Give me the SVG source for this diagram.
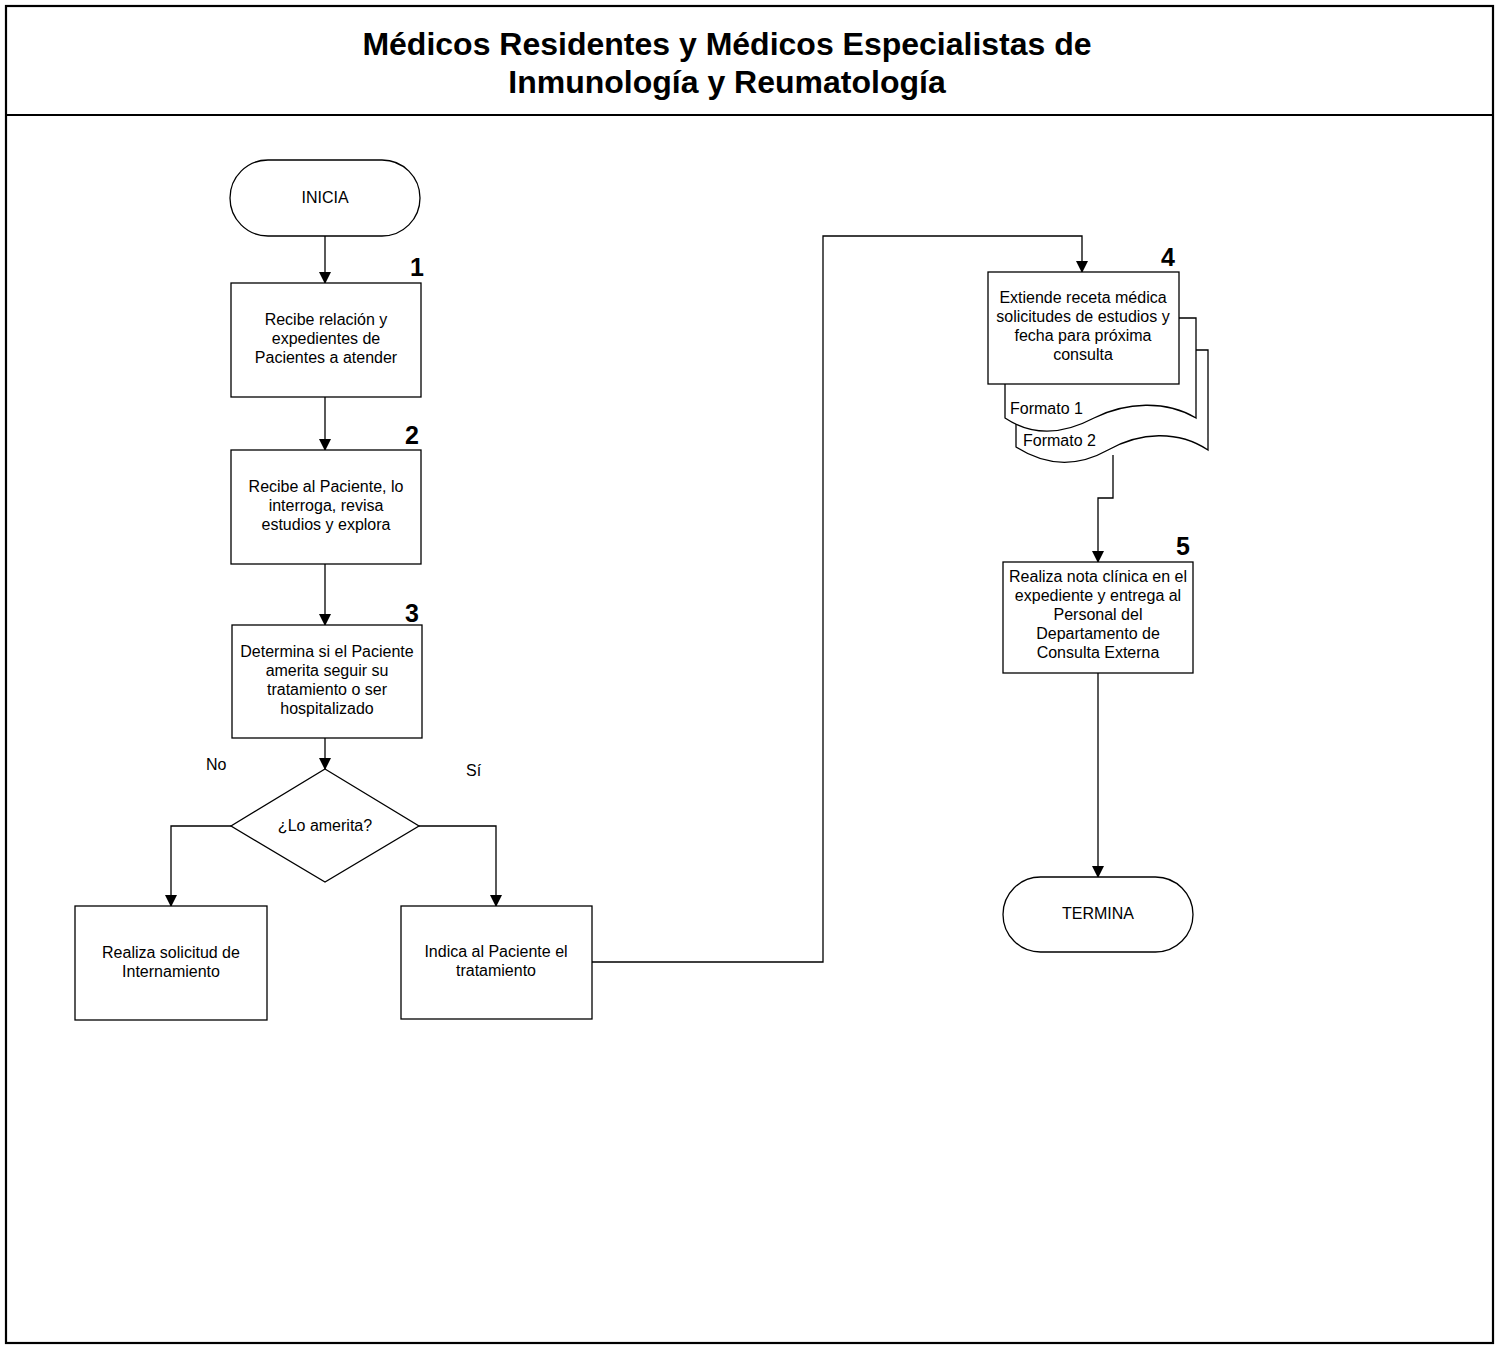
<svg xmlns="http://www.w3.org/2000/svg" width="1498" height="1347" viewBox="0 0 1498 1347">
  <style>
    .frame { fill: none; stroke: #000; stroke-width: 2.2; }
    .shape { fill: #fff; stroke: #000; stroke-width: 1.3; }
    .conn { fill: none; stroke: #000; stroke-width: 1.3; }
    .t { font-family: "Liberation Sans", Arial, sans-serif; font-size: 16px; fill: #000; text-anchor: middle; }
    .tl { font-family: "Liberation Sans", Arial, sans-serif; font-size: 16px; fill: #000; }
    .num { font-family: "Liberation Sans", Arial, sans-serif; font-size: 25px; font-weight: bold; fill: #000; text-anchor: middle; }
    .title { font-family: "Liberation Sans", Arial, sans-serif; font-size: 32px; font-weight: bold; fill: #000; text-anchor: middle; }
  </style>
  <defs>
    <marker id="arrow" markerWidth="12" markerHeight="14" refX="11" refY="6" orient="auto" markerUnits="userSpaceOnUse">
      <path d="M0,0 L12,6 L0,12 Z" fill="#000"/>
    </marker>
  </defs>

  <rect width="1498" height="1347" fill="#fff"/>

  <!-- lane frame and header -->
  <g id="frame">
    <rect class="frame" x="6" y="6" width="1487" height="1337"/>
    <line class="frame" x1="6" y1="115" x2="1493" y2="115"/>
    <text class="title" x="727" y="55">Médicos Residentes y Médicos Especialistas de</text>
    <text class="title" x="727" y="93">Inmunología y Reumatología</text>
  </g>

  <!-- connectors -->
  <g id="connectors">
    <line class="conn" x1="325" y1="236" x2="325" y2="283" marker-end="url(#arrow)"/>
    <line class="conn" x1="325" y1="397" x2="325" y2="450" marker-end="url(#arrow)"/>
    <line class="conn" x1="325" y1="564" x2="325" y2="625" marker-end="url(#arrow)"/>
    <line class="conn" x1="325" y1="738" x2="325" y2="769" marker-end="url(#arrow)"/>
    <polyline class="conn" points="231,826 171,826 171,906" marker-end="url(#arrow)"/>
    <polyline class="conn" points="419,826 496,826 496,906" marker-end="url(#arrow)"/>
    <polyline class="conn" points="592,962 823,962 823,236 1082,236 1082,272" marker-end="url(#arrow)"/>
    <polyline class="conn" points="1113,455 1113,498 1098,498 1098,562" marker-end="url(#arrow)"/>
    <line class="conn" x1="1098" y1="673" x2="1098" y2="877" marker-end="url(#arrow)"/>
    <text class="tl" x="206" y="770">No</text>
    <text class="tl" x="466" y="776">Sí</text>
  </g>

  <g id="inicia">
    <rect class="shape" x="230" y="160" width="190" height="76" rx="38" ry="38"/>
    <text class="t" x="325" y="203">INICIA</text>
  </g>

  <g id="paso1">
    <rect class="shape" x="231" y="283" width="190" height="114"/>
    <text class="num" x="417" y="276">1</text>
    <text class="t" x="326" y="325">Recibe relación y</text>
    <text class="t" x="326" y="344">expedientes de</text>
    <text class="t" x="326" y="363">Pacientes a atender</text>
  </g>

  <g id="paso2">
    <rect class="shape" x="231" y="450" width="190" height="114"/>
    <text class="num" x="412" y="444">2</text>
    <text class="t" x="326" y="492">Recibe al Paciente, lo</text>
    <text class="t" x="326" y="511">interroga, revisa</text>
    <text class="t" x="326" y="530">estudios y explora</text>
  </g>

  <g id="paso3">
    <rect class="shape" x="232" y="625" width="190" height="113"/>
    <text class="num" x="412" y="622">3</text>
    <text class="t" x="327" y="657">Determina si el Paciente</text>
    <text class="t" x="327" y="676">amerita seguir su</text>
    <text class="t" x="327" y="695">tratamiento o ser</text>
    <text class="t" x="327" y="714">hospitalizado</text>
  </g>

  <g id="decision">
    <polygon class="shape" points="325,769 419,826 325,882 231,826"/>
    <text class="t" x="325" y="831">¿Lo amerita?</text>
  </g>

  <g id="internamiento">
    <rect class="shape" x="75" y="906" width="192" height="114"/>
    <text class="t" x="171" y="958">Realiza solicitud de</text>
    <text class="t" x="171" y="977">Internamiento</text>
  </g>

  <g id="tratamiento">
    <rect class="shape" x="401" y="906" width="191" height="113"/>
    <text class="t" x="496" y="957">Indica al Paciente el</text>
    <text class="t" x="496" y="976">tratamiento</text>
  </g>

  <g id="paso4">
    <!-- stacked documents behind the process box -->
    <path class="shape" d="M1016,350 H1208 V450 C1178,430 1140,432 1108,450 C1076,468 1046,466 1016,447 Z"/>
    <text class="tl" x="1023" y="446">Formato 2</text>
    <path class="shape" d="M1005,318 H1196 V418 C1166,400 1126,402 1094,418 C1062,435 1032,436 1005,418 Z"/>
    <text class="tl" x="1010" y="414">Formato 1</text>
    <rect class="shape" x="988" y="272" width="191" height="112"/>
    <text class="num" x="1168" y="266">4</text>
    <text class="t" x="1083" y="303">Extiende receta médica</text>
    <text class="t" x="1083" y="322">solicitudes de estudios y</text>
    <text class="t" x="1083" y="341">fecha para próxima</text>
    <text class="t" x="1083" y="360">consulta</text>
  </g>

  <g id="paso5">
    <rect class="shape" x="1003" y="562" width="190" height="111"/>
    <text class="num" x="1183" y="555">5</text>
    <text class="t" x="1098" y="582">Realiza nota clínica en el</text>
    <text class="t" x="1098" y="601">expediente y entrega al</text>
    <text class="t" x="1098" y="620">Personal del</text>
    <text class="t" x="1098" y="639">Departamento de</text>
    <text class="t" x="1098" y="658">Consulta Externa</text>
  </g>

  <g id="termina">
    <rect class="shape" x="1003" y="877" width="190" height="75" rx="37.5" ry="37.5"/>
    <text class="t" x="1098" y="919">TERMINA</text>
  </g>
</svg>
